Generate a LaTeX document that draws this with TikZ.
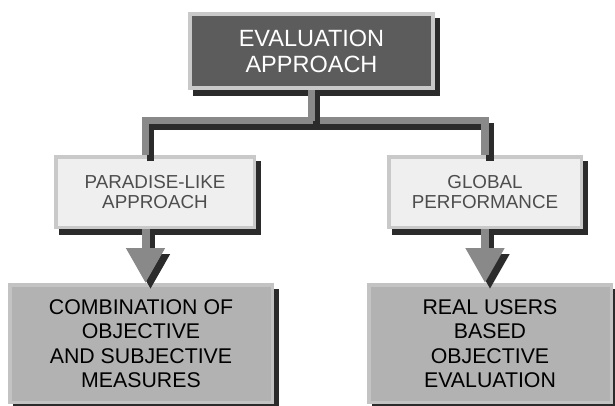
\documentclass[tikz,border=0pt]{standalone}
\usepackage{fontspec}
\setmainfont{Liberation Sans}
\usepackage{tikz}
\usetikzlibrary{arrows.meta, positioning, shadows}
\definecolor{headfill}{HTML}{5C5C5C}
\definecolor{rim}{HTML}{C9C9C9}
\definecolor{midfill}{HTML}{EFEFEF}
\definecolor{midtext}{HTML}{4D4D4D}
\definecolor{lowfill}{HTML}{B2B2B2}
\definecolor{lowrim}{HTML}{C3C3C3}
\definecolor{shade}{HTML}{2B2B2B}
\definecolor{pipegray}{HTML}{898989}

\begin{document}
\begin{tikzpicture}[
    x=1pt, y=-1pt,
    box/.style={draw, rectangle, align=center, inner sep=0pt},
    headbox/.style={box, fill=headfill, draw=rim, line width=4pt, text=white,
                    minimum width=243pt, minimum height=74pt,
                    font=\fontsize{23.5}{26}\selectfont,
                    drop shadow={shadow xshift=5pt, shadow yshift=-6pt, opacity=1,
                                 fill=shade, draw=shade, line width=4pt}},
    midbox/.style={box, fill=midfill, draw=rim, line width=3.5pt, text=midtext,
                   minimum width=198.5pt, minimum height=70.5pt,
                   font=\fontsize{18.8}{20.7}\selectfont,
                   drop shadow={shadow xshift=5pt, shadow yshift=-6pt, opacity=1,
                                fill=shade, draw=shade, line width=3.5pt}},
    lowbox/.style={box, fill=lowfill, draw=lowrim, line width=3.5pt, text=black,
                   minimum height=117.5pt,
                   font=\fontsize{21.3}{24.5}\selectfont,
                   drop shadow={shadow xshift=5pt, shadow yshift=-6pt, opacity=1,
                                fill=shade, draw=shade, line width=3.5pt}},
    pipe/.style={line width=7.5pt, draw=pipegray},
    pipeshade/.style={pipe, draw=shade, transform canvas={xshift=5pt, yshift=-6pt}},
    arrow/.style={line width=8pt, draw=pipegray, -{Triangle[width=37pt, length=35pt]}},
    arrowshade/.style={arrow, draw=shade, transform canvas={xshift=5pt, yshift=-6pt}}
  ]
    \useasboundingbox (0,0) rectangle (615,405);
    \clip (0,0) rectangle (615,405);

    \node[headbox] (evap) at (311.5,51) {EVALUATION\\APPROACH};
    \node[midbox, below=65pt of evap, xshift=-156.5pt] (para)
      {PARADISE-LIKE\\APPROACH};
    \node[midbox, minimum width=192.5pt, below=65pt of evap, xshift=173.5pt] (glob)
      {GLOBAL\\PERFORMANCE};
    \node[lowbox, minimum width=262.5pt, below=54pt of para, xshift=-14pt] (comb)
      {COMBINATION OF\\OBJECTIVE\\AND SUBJECTIVE\\MEASURES};
    \node[lowbox, minimum width=242.5pt, below=54pt of glob, xshift=5pt] (real)
      {REAL USERS\\BASED\\OBJECTIVE\\EVALUATION};

    \coordinate (fork) at (311.5,120.5);
    \coordinate (lft) at ([xshift=-9.5pt]para.north);

    % branch bar, then the stem from the head box
    \draw[pipeshade] (lft) |- (fork) -| (glob.north);
    \draw[pipe] (lft) |- (fork) -| (glob.north);
    \draw[pipeshade] (evap.south) -- (fork);
    \draw[pipe] (evap.south) -- (fork);

    % down arrows
    \draw[arrowshade] ([xshift=-9.5pt]para.south) -- (lft |- comb.north);
    \draw[arrow] ([xshift=-9.5pt]para.south) -- (lft |- comb.north);
    \draw[arrowshade] (glob.south) -- (glob.south |- real.north);
    \draw[arrow] (glob.south) -- (glob.south |- real.north);
  \end{tikzpicture}
\end{document}
